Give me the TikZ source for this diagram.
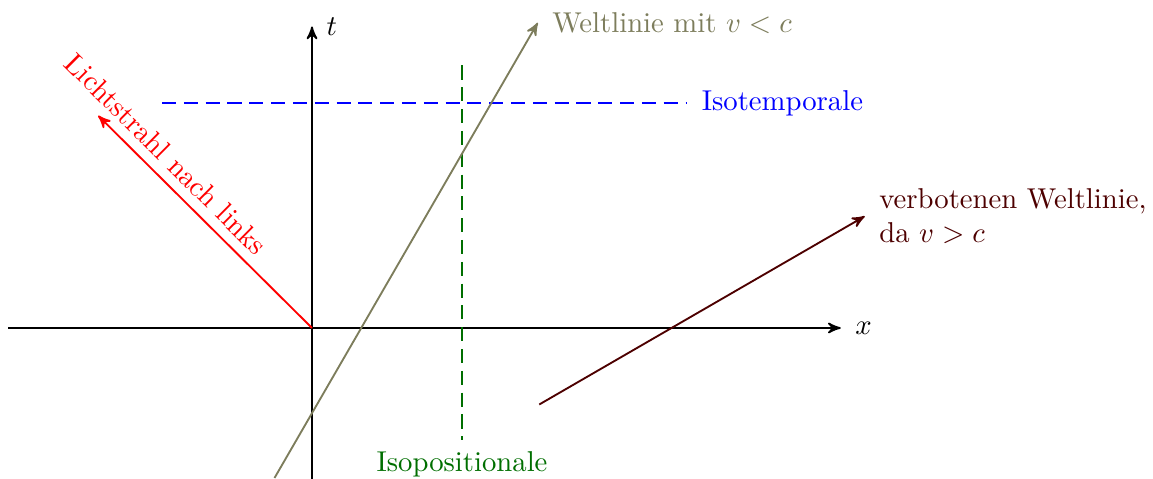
\documentclass[tikz,border=0pt]{standalone}
\usetikzlibrary{arrows}
\definecolor{olivegray}{RGB}{125,125,92}
\definecolor{darkgreen}{RGB}{0,110,0}
\definecolor{darkred}{RGB}{77,0,0}
\begin{document}
\begin{tikzpicture}[x=0.9184cm,y=0.9184cm,>=stealth',
  axis/.style={line width=0.65pt,->,black},
  isoline/.style={thick,dash pattern=on 4.9pt off 2.7pt},
  wline/.style={line width=0.65pt,->},
  rlab/.style={right,xshift=1.4pt}]
\useasboundingbox (-4.16,-2.013) rectangle (11.213,4.373);
% coordinates
\coordinate (O) at (0,0);
\coordinate (xl) at (-4.05,0);
\coordinate (xr) at (7.05,0);
\coordinate (tb) at (0,-2.05);
\coordinate (tt) at (0,4.02);
\coordinate (itl) at (-2,3);
\coordinate (itr) at (5,3);
\coordinate (ipb) at (2,-1.5);
\coordinate (ipt) at (2,3.5);
\coordinate (wa) at (-0.5,-2);
\coordinate (wb) at (3.01,4.07);
\coordinate (ls) at (-2.85,2.83);
\coordinate (fa) at (3.03,-1.02);
\coordinate (fb) at (7.37,1.49);
% axes
\draw[axis] (xl) -- (xr) node[rlab] (xlab) {$x$};
\draw[axis] (tb) -- (tt) node[rlab] (tlab) {$t$};
% iso lines
\draw[isoline,blue] (itl) -- (itr) node[rlab] (itlab) {Isotemporale};
\draw[isoline,darkgreen] (ipt) -- (ipb) node[below] (iplab) {Isopositionale};
% world line v<c
\draw[wline,olivegray] (wa) -- (wb) node[rlab] (wlab) {Weltlinie mit $v<c$};
% light ray
\draw[wline,red] (O) -- (ls) node[pos=0.75,sloped,above] (llab) {Lichtstrahl nach links};
% forbidden world line
\draw[wline,darkred] (fa) -- (fb) node[rlab,align=left] (flab) {verbotenen Weltlinie,\\ da $v>c$};
\end{tikzpicture}
\end{document}
